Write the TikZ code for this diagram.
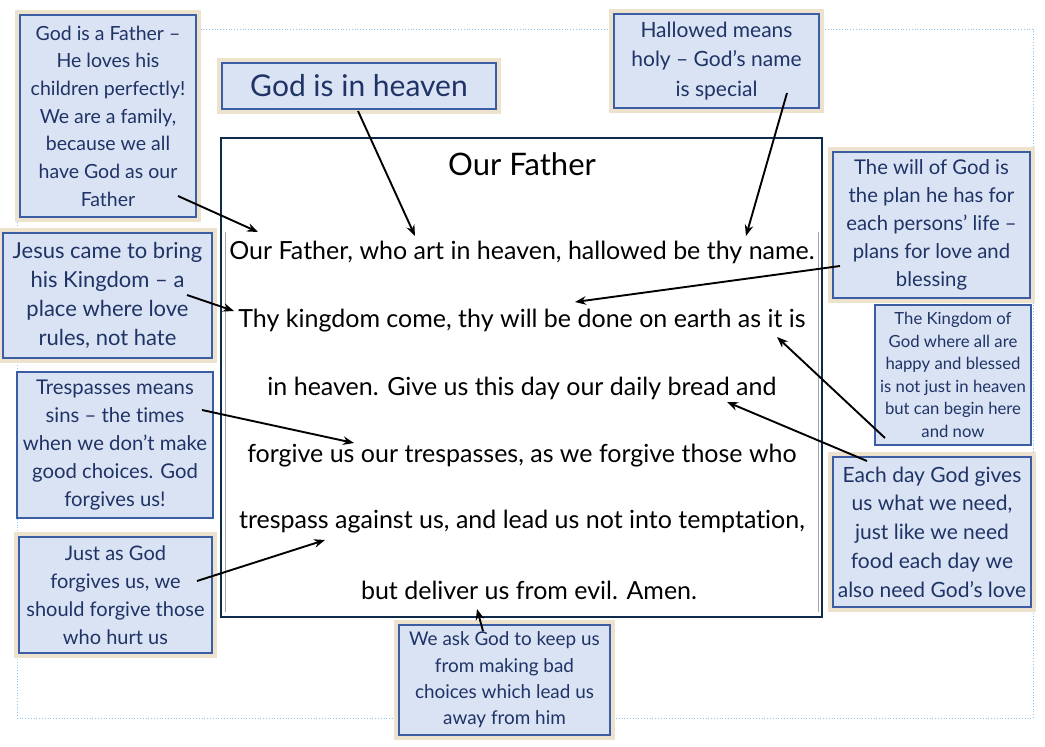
\documentclass[tikz,border=0pt]{standalone}
\usepackage{fontspec}
\setmainfont{Lato}[Ligatures={NoCommon,NoRare}]
\usetikzlibrary{arrows.meta,backgrounds}
\definecolor{navy}{HTML}{0E2B4C}
\definecolor{cfill}{HTML}{DAE3F3}
\definecolor{cborder}{HTML}{3A5DA3}
\definecolor{ctxt}{HTML}{1F3366}
\definecolor{beigec}{HTML}{EDE2CE}
\definecolor{dotc}{HTML}{8EC5F0}
\tikzset{
  cbox/.style={fill=cfill, draw=cborder, line width=1.6pt, align=center, text=ctxt, inner sep=0pt},
  fs/.style n args={2}{font=\fontsize{#1}{#2}\selectfont},
  maintext/.style={text=black, inner sep=0pt, font=\fontsize{25}{30}\selectfont},
  arr/.style={-{Stealth[length=11pt,width=8.5pt]}, line width=1.9pt, black},
}
\newcommand{\beigebg}[1]{\begin{scope}[on background layer]\fill[beigec] ([shift={(-4pt,4pt)}]#1.north west) rectangle ([shift={(4pt,-4pt)}]#1.south east);\end{scope}}
\begin{document}
\begin{tikzpicture}[x=1pt,y=-1pt]
\useasboundingbox (0,0) rectangle (1045,747);
\begin{scope}[on background layer]
\fill[white] (0,0) rectangle (1045,747);
% dotted slide frame
\draw[dotc, line width=0.8pt, dotted] (17,29) rectangle (1033,718);
\end{scope}
% main box
\node[draw=navy, line width=2.8pt, fill=white, minimum width=601pt, minimum height=479pt, inner sep=0pt] (main) at (521.5,377.5) {};
\draw[gray!70, line width=0.6pt] (225.5,232) -- (225.5,612);
\draw[gray!70, line width=0.6pt] (818,232) -- (818,612);
\node[maintext, font=\fontsize{31}{36}\selectfont] (title) at (522,164) {Our Father};
\node[maintext] (l1) at (522,252) {Our Father, who art in heaven, hallowed be thy name.};
\node[maintext] (l2) at (522,321) {Thy kingdom come, thy will be done on earth as it is};
\node[maintext] (l3) at (522,388) {in heaven. Give us this day our daily bread and};
\node[maintext] (l4) at (522,456) {forgive us our trespasses, as we forgive those who};
\node[maintext] (l5) at (522,522) {trespass against us, and lead us not into temptation,};
\node[maintext] (l6) at (529,590) {but deliver us from evil. Amen.};

% callouts
\node[cbox, fs={19.5}{27.7}, minimum width=176pt, minimum height=202pt] (b1) at (108,116)
 {God is a Father --\\He loves his\\children perfectly!\\We are a family,\\because we all\\have God as our\\Father};
\beigebg{b1}
\node[cbox, fs={30}{34}, minimum width=274pt, minimum height=46pt] (b2) at (359,86) {God is in heaven};
\beigebg{b2}
\node[cbox, fs={21}{29.5}, minimum width=205pt, minimum height=94pt] (b3) at (716.5,61)
 {Hallowed means\\holy -- God's name\\is special};
\beigebg{b3}
\node[cbox, fs={20.3}{28}, minimum width=197pt, minimum height=146pt] (b4) at (931.5,225)
 {The will of God is\\the plan he has for\\each persons' life --\\plans for love and\\blessing};
\beigebg{b4}
\node[cbox, fs={16.7}{22.6}, minimum width=156pt, minimum height=140pt, line width=1.2pt] (b5) at (953,375)
 {The Kingdom of\\God where all are\\happy and blessed\\is not just in heaven\\but can begin here\\and now};
\node[cbox, fs={21}{28.75}, minimum width=198pt, minimum height=150pt] (b6) at (932,532)
 {Each day God gives\\us what we need,\\just like we need\\food each day we\\also need God's love};
\beigebg{b6}
\node[cbox, fs={22}{29}, minimum width=209pt, minimum height=125pt] (b7) at (107.5,295.5)
 {Jesus came to bring\\his Kingdom -- a\\place where love\\rules, not hate};
\beigebg{b7}
\node[cbox, fs={20.3}{28}, minimum width=196pt, minimum height=146pt] (b8) at (115,445)
 {Trespasses means\\sins -- the times\\when we don't make\\good choices. God\\forgives us!};
\node[cbox, fs={20}{28}, minimum width=193pt, minimum height=116pt] (b9) at (115.5,595)
 {Just as God\\forgives us, we\\should forgive those\\who hurt us};
\beigebg{b9}
\node[cbox, fs={18.9}{26.3}, minimum width=211pt, minimum height=110pt] (b10) at (504.5,680)
 {We ask God to keep us\\from making bad\\choices which lead us\\away from him};
\beigebg{b10}

% arrow end points
\coordinate (s1) at (178,196); \coordinate (e1) at (258,232);
\coordinate (s2) at (358,111); \coordinate (e2) at (415,236);
\coordinate (s3) at (787,93);  \coordinate (e3) at (746,236);
\coordinate (s4) at (840,266); \coordinate (e4) at (575,302);
\coordinate (s7) at (187,295); \coordinate (e7) at (234,311);
\coordinate (s5) at (885,438); \coordinate (e5) at (777,337);
\coordinate (s6) at (867,461); \coordinate (e6) at (727,402);
\coordinate (s8) at (202,410); \coordinate (e8) at (354,443);
\coordinate (s9) at (197,581); \coordinate (e9) at (325,540);
\coordinate (s10) at (483,631); \coordinate (e10) at (477,609);
\draw[arr] (s1) -- (e1);
\draw[arr] (s2) -- (e2);
\draw[arr] (s3) -- (e3);
\draw[arr] (s4) -- (e4);
\draw[arr] (s7) -- (e7);
\draw[arr] (s5) -- (e5);
\draw[arr] (s6) -- (e6);
\draw[arr] (s8) -- (e8);
\draw[arr] (s9) -- (e9);
\draw[arr] (s10) -- (e10);
\end{tikzpicture}
\end{document}
